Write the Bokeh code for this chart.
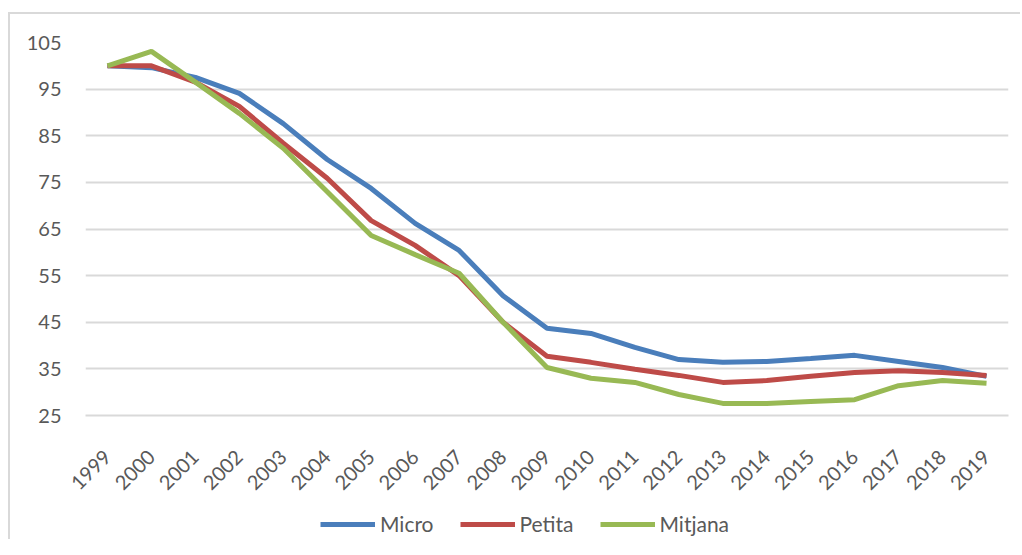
from bokeh.plotting import figure
from bokeh.layouts import column
from bokeh.models import Legend, LegendItem, FactorRange, Range1d, FixedTicker
from bokeh.embed import file_html
from bokeh.resources import INLINE
import math

years = [str(y) for y in range(1999, 2020)]
micro = [100, 99.6, 97.5, 94.1, 87.6, 79.9, 73.7, 66.2, 60.4, 50.7, 43.7, 42.6, 39.6, 37.0, 36.4, 36.6, 37.2, 37.9, 36.6, 35.3, 33.4]
petita = [100, 100, 96.5, 91.3, 83.4, 75.9, 66.8, 61.5, 55.0, 45.0, 37.7, 36.4, 34.9, 33.6, 32.1, 32.5, 33.4, 34.2, 34.6, 34.2, 33.6]
mitjana = [100, 103.1, 96.5, 89.8, 82.3, 73.0, 63.6, 59.5, 55.5, 45.0, 35.3, 33.0, 32.1, 29.5, 27.6, 27.6, 28.0, 28.4, 31.4, 32.5, 31.9]
y_ticks = [25, 35, 45, 55, 65, 75, 85, 95, 105]
series_names = ["Micro", "Petita", "Mitjana"]
colors = ["#4A7EBB", "#BE4B48", "#98B954"]

FONT = "Lato"
TXT = "#595959"
GRID = "#D9D9D9"

p = figure(width=1012, height=486, x_range=FactorRange(*years), y_range=Range1d(25, 105),
           output_backend="svg", toolbar_location=None,
           min_border_left=75, min_border_right=14, min_border_top=28, min_border_bottom=85)
p.styles = {"border-left": "2px solid #D9D9D9", "border-top": "2px solid #D9D9D9",
            "margin-top": "12px", "margin-left": "8px"}
p.outline_line_color = None
p.background_fill_color = "white"

p.xgrid.grid_line_color = None
p.ygrid.grid_line_color = GRID
p.ygrid.grid_line_width = 2

p.yaxis.ticker = FixedTicker(ticks=y_ticks)
p.yaxis.axis_line_color = None
p.yaxis.major_tick_line_color = None
p.yaxis.minor_tick_line_color = None
p.yaxis.major_label_standoff = 18
p.yaxis.major_label_text_font = FONT
p.yaxis.major_label_text_font_size = "20px"
p.yaxis.major_label_text_color = TXT

p.xaxis.axis_line_color = GRID
p.xaxis.axis_line_width = 2
p.xaxis.major_tick_line_color = None
p.xaxis.minor_tick_line_color = None
p.xaxis.major_label_orientation = math.pi / 4
p.xaxis.major_label_standoff = 32
p.xaxis.major_label_text_font = FONT
p.xaxis.major_label_text_font_size = "20px"
p.xaxis.major_label_text_color = TXT

for vals, c in zip([micro, petita, mitjana], colors):
    p.line(years, vals, line_color=c, line_width=5)

# legend strip (proxy lines lie outside the visible range)
lf = figure(width=1012, height=41, x_range=(0, 1), y_range=(0, 1),
            output_backend="svg", toolbar_location=None,
            min_border_left=0, min_border_right=0, min_border_top=0, min_border_bottom=0)
lf.styles = {"border-left": "2px solid #D9D9D9", "margin-left": "8px"}
lf.axis.visible = False
lf.grid.grid_line_color = None
lf.outline_line_color = None
items = []
for name, c in zip(series_names, colors):
    r = lf.line([-5, -4], [-5, -4], line_color=c, line_width=5)
    items.append(LegendItem(label=name, renderers=[r]))
legend = Legend(items=items, orientation="horizontal", location=(235, 3),
                glyph_width=55, glyph_height=20, label_standoff=5, spacing=26,
                label_text_font=FONT, label_text_font_size="21px", label_text_color=TXT,
                border_line_color=None, background_fill_alpha=0, margin=0, padding=5)
lf.add_layout(legend, "center")

layout = column(p, lf, spacing=0)
open("out.html", "w").write(file_html(layout, INLINE))
